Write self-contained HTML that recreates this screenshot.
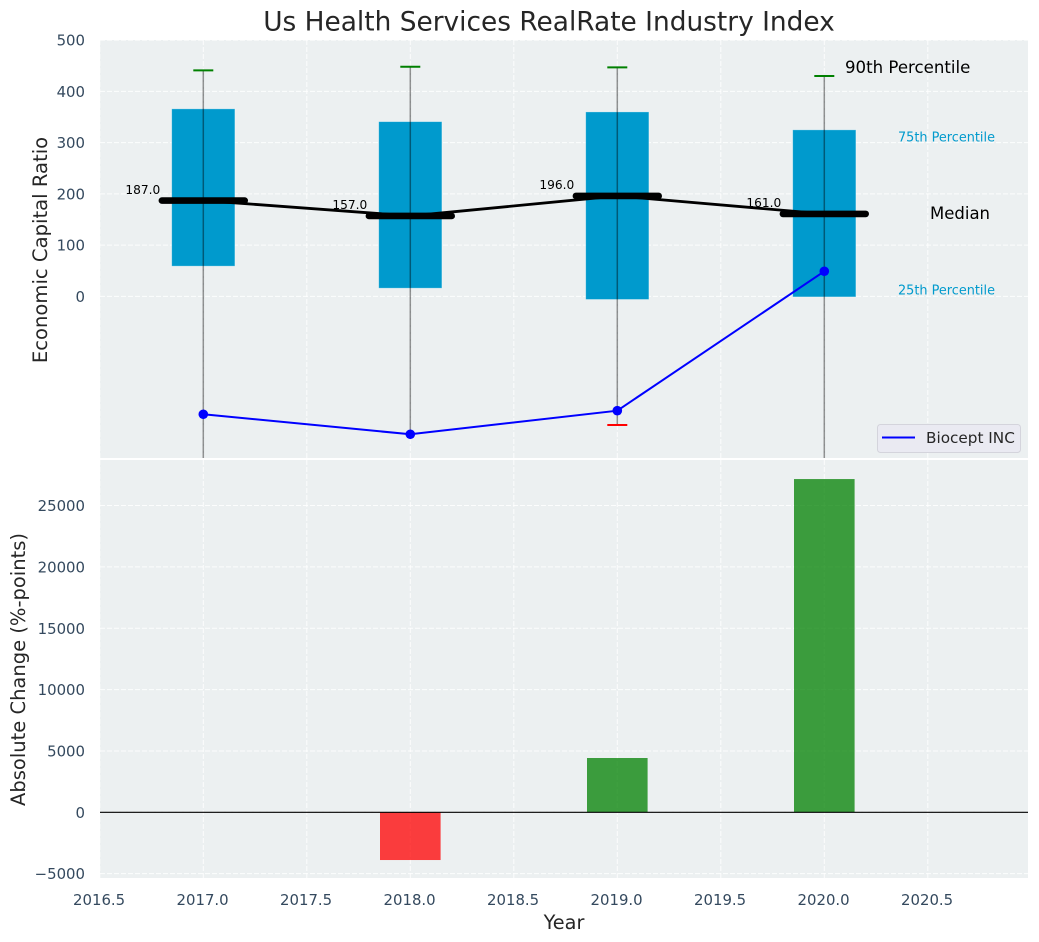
<!DOCTYPE html>
<html>
<head>
<meta charset="utf-8">
<title>Us Health Services RealRate Industry Index</title>
<style>
html,body{margin:0;padding:0;background:#fff;width:1039px;height:942px;overflow:hidden}
svg{display:block;font-family:"DejaVu Sans","Liberation Sans",sans-serif}
</style>
</head>
<body>
<svg id="chart" width="1039" height="942" viewBox="0 0 1039 942" xmlns="http://www.w3.org/2000/svg">
<defs>
<clipPath id="clip-top"><rect x="100" y="40" width="928" height="418"></rect></clipPath>
<clipPath id="clip-bot"><rect x="100" y="460" width="928" height="418"></rect></clipPath>
</defs>
</svg>
<script>
const years = [2017, 2018, 2019, 2020];
const p90 = [441, 448, 447, 430];
const p75 = [366, 341, 360, 325];
const medians = [187, 157, 196, 161];
const p25 = [59, 16, -6, -1];
const p10 = [-420, -269, -251, -420];
const lowerCapShown = [true, false, true, true];
const biocept = [-230, -269, -223, 49];
const changes = [0, -3890, 4425, 27160];
const xTicks = [2016.5, 2017, 2017.5, 2018, 2018.5, 2019, 2019.5, 2020, 2020.5];
const yTicksTop = [0, 100, 200, 300, 400, 500];
const yTicksBottom = [-5000, 0, 5000, 10000, 15000, 20000, 25000];

const svg = document.getElementById('chart');
const NS = 'http://www.w3.org/2000/svg';
function X(v){ return 99.8 + (v - 2016.5) * 207.0; }
function YT(v){ return 296.4 - v * 0.5125; }
function YB(v){ return 812.3 - v * 0.01227; }
function make(tag, attrs, parent){
  const el = document.createElementNS(NS, tag);
  for (const k in attrs) el.setAttribute(k, attrs[k]);
  (parent || svg).appendChild(el);
  return el;
}
function txt(str, x, y, size, fill, anchor, parent){
  const el = make('text', {x:x, y:y, 'font-size':size, fill:fill, 'text-anchor':anchor || 'start'}, parent);
  el.textContent = str;
  return el;
}
const TICK = '#34495e', INK = '#262626', CYAN = '#009ACD';
const TICK_SIZE = 14.9;
const fmt = v => (v < 0 ? '\u2212' + Math.abs(v) : String(v));

/* panels */
let el = make('rect', {x:100, y:40, width:928, height:418, fill:'#ecf0f1'});


el = make('rect', {x:100, y:460, width:928, height:418, fill:'#ecf0f1'});



const gridAttrs = {stroke:'#fff', 'stroke-width':1, 'stroke-dasharray':'5 2', 'stroke-opacity':0.85};
const topPlot = make('g', {'clip-path':'url(#clip-top)'});


const botPlot = make('g', {'clip-path':'url(#clip-bot)'});



/* grids and x tick labels */
xTicks.forEach(function(t){
  let g = make('line', Object.assign({x1:X(t), x2:X(t), y1:40, y2:458}, gridAttrs), topPlot);
  
  
  g = make('line', Object.assign({x1:X(t), x2:X(t), y1:460, y2:878}, gridAttrs), botPlot);
  
  
  const l = txt(t.toFixed(1), X(t) - 0.7, 905, TICK_SIZE, TICK, 'middle');
  
  
});
yTicksTop.forEach(function(t){
  const g = make('line', Object.assign({x1:100, x2:1028, y1:YT(t), y2:YT(t)}, gridAttrs), topPlot);
  
  
  const l = txt(fmt(t), 85, YT(t) + 5.5, TICK_SIZE, TICK, 'end');
  
  
});
yTicksBottom.forEach(function(t){
  const g = make('line', Object.assign({x1:100, x2:1028, y1:YB(t), y2:YB(t)}, gridAttrs), botPlot);
  
  
  const l = txt(fmt(t), 85, YB(t) + 5.5, TICK_SIZE, TICK, 'end');
  
  
});

/* interquartile boxes */
years.forEach(function(y, i){
  const b = make('rect', {x:X(y) - 31.6, y:YT(p75[i]), width:63.2, height:YT(p25[i]) - YT(p75[i]), fill:CYAN, stroke:'#fff', 'stroke-opacity':0.4, 'stroke-width':0.8}, topPlot);
  
  
});

/* median value labels */
years.forEach(function(y, i){
  const l = txt(medians[i].toFixed(1), X(y) - 43, YT(medians[i]) - 6.8, 12.2, '#000', 'end', topPlot);
  
  
});

/* median connecting line */
const medianLine = make('polyline', {points:years.map((y, i) => X(y) + ',' + YT(medians[i])).join(' '), fill:'none', stroke:'#000', 'stroke-width':2.8}, topPlot);



/* whiskers, caps and median bars */
years.forEach(function(y, i){
  const w = make('line', {x1:X(y), x2:X(y), y1:YT(p90[i]), y2:YT(p10[i]), stroke:'#000', 'stroke-opacity':0.42, 'stroke-width':1.5}, topPlot);
  
  
  const c = make('line', {x1:X(y) - 10, x2:X(y) + 10, y1:YT(p90[i]), y2:YT(p90[i]), stroke:'#008000', 'stroke-width':2}, topPlot);
  
  
  if (lowerCapShown[i]) {
    const d = make('line', {x1:X(y) - 10, x2:X(y) + 10, y1:YT(p10[i]), y2:YT(p10[i]), stroke:'#ff0000', 'stroke-width':2}, topPlot);
    
    
  }
  const m = make('line', {x1:X(y) - 41.4, x2:X(y) + 41.4, y1:YT(medians[i]), y2:YT(medians[i]), stroke:'#000', 'stroke-width':6.6, 'stroke-linecap':'round'}, topPlot);
  
  
});

/* company series */
const blue = make('polyline', {points:years.map((y, i) => X(y) + ',' + YT(biocept[i])).join(' '), fill:'none', stroke:'#0000ff', 'stroke-width':2}, topPlot);


years.forEach(function(y, i){
  const p = make('circle', {cx:X(y), cy:YT(biocept[i]), r:4.8, fill:'#0000ff'}, topPlot);
  
  
});

/* annotations */
let a = txt('90th Percentile', 845, 73, 16.6, '#000');


a = txt('75th Percentile', 898, 141.3, 12.85, CYAN);


a = txt('Median', 930, 219, 16.5, '#000');


a = txt('25th Percentile', 898, 294.3, 12.85, CYAN);



/* legend */
const lg = make('g', {});


let li = make('rect', {x:877.5, y:424.5, width:143, height:28, rx:3, fill:'#eaeaf2', stroke:'#d4d4dc', 'stroke-width':1}, lg);


li = make('line', {x1:882, x2:915, y1:437.5, y2:437.5, stroke:'#0000ff', 'stroke-width':2}, lg);


li = txt('Biocept INC', 926, 443, 15.25, INK, 'start', lg);



/* change bars */
years.forEach(function(y, i){
  const v = changes[i];
  const b = make('rect', {x:X(y) - 30.3, y:Math.min(YB(0), YB(v)), width:60.6, height:Math.abs(YB(v) - YB(0)), fill:v >= 0 ? '#008000' : '#ff0000', 'fill-opacity':0.75}, botPlot);
  
  
});
const zero = make('line', {x1:100, x2:1028, y1:YB(0), y2:YB(0), stroke:'#000', 'stroke-width':1.2}, botPlot);



/* titles */
let t = txt('Us Health Services RealRate Industry Index', 549, 30.5, 26.4, INK, 'middle');


t = txt('Year', 564, 929, 19.3, INK, 'middle');


t = txt('Economic Capital Ratio', 0, 0, 19.6, INK, 'middle');
t.setAttribute('transform', 'translate(47,250) rotate(-90)');


t = txt('Absolute Change (%-points)', 0, 0, 19.5, INK, 'middle');
t.setAttribute('transform', 'translate(25,669.5) rotate(-90)');


</script>
</body>
</html>
